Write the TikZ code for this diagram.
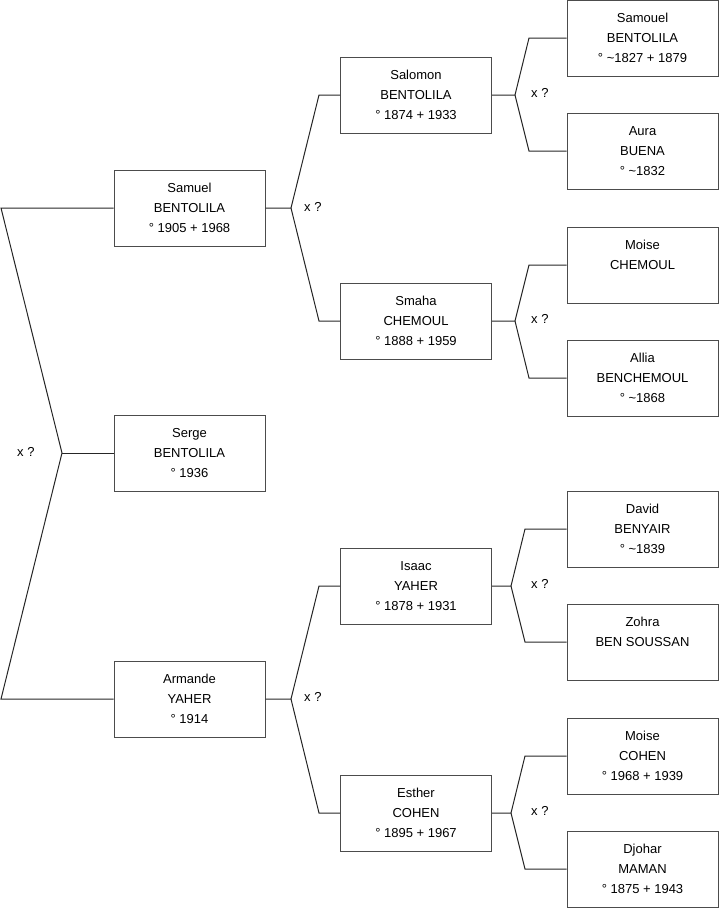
\documentclass[tikz,border=0pt]{standalone}
\usepackage{fontspec}
\setmainfont{Liberation Sans}
\begin{document}
\begin{tikzpicture}[x=1pt,y=-1pt,
  person/.style={draw=black!70, line width=1pt, rectangle, minimum width=151pt, minimum height=76pt, inner sep=0pt, align=center, font=\fontsize{13}{20}\selectfont, text=black},
  link/.style={draw=black!85, line width=1pt},
  xq/.style={anchor=west, inner sep=0pt, font=\fontsize{13}{15}\selectfont, text=black}]
\useasboundingbox (0,0) rectangle (719,908);
% generation 1
\node[person] (sam) at (189.5,208) {Samuel\\BENTOLILA\\° 1905 + 1968};
\node[person] (serge) at (189.5,453) {Serge\\BENTOLILA\\° 1936};
\node[person] (arm) at (189.5,699) {Armande\\YAHER\\° 1914};
% generation 2
\node[person] (salomon) at (416,95) {Salomon\\BENTOLILA\\° 1874 + 1933};
\node[person] (smaha) at (416,321) {Smaha\\CHEMOUL\\° 1888 + 1959};
\node[person] (isaac) at (416,586) {Isaac\\YAHER\\° 1878 + 1931};
\node[person] (esther) at (416,813) {Esther\\COHEN\\° 1895 + 1967};
% generation 3
\node[person] (samouel) at (642.5,38) {Samouel\\BENTOLILA\\° \textasciitilde 1827 + 1879};
\node[person] (aura) at (642.5,151) {Aura\\BUENA\\° \textasciitilde 1832};
\node[person] (moisech) at (642.5,265) {Moise\\CHEMOUL\\\mbox{}};
\node[person] (allia) at (642.5,378) {Allia\\BENCHEMOUL\\° \textasciitilde 1868};
\node[person] (david) at (642.5,529) {David\\BENYAIR\\° \textasciitilde 1839};
\node[person] (zohra) at (642.5,642) {Zohra\\BEN SOUSSAN\\\mbox{}};
\node[person] (moiseco) at (642.5,756) {Moise\\COHEN\\° 1968 + 1939};
\node[person] (djohar) at (642.5,869) {Djohar\\MAMAN\\° 1875 + 1943};
% coordinates
\coordinate (l1) at (1,208);
\coordinate (v0) at (62,453);
\coordinate (l2) at (1,699);
\coordinate (v1) at (291,208);
\coordinate (b1a) at (319,95);
\coordinate (b1b) at (319,321);
\coordinate (v2) at (291,699);
\coordinate (b2a) at (319,586);
\coordinate (b2b) at (319,813);
\coordinate (v3) at (515,95);
\coordinate (b3a) at (529,38);
\coordinate (b3b) at (529,151);
\coordinate (v4) at (515,321);
\coordinate (b4a) at (529,265);
\coordinate (b4b) at (529,378);
\coordinate (v5) at (511,586);
\coordinate (b5a) at (525,529);
\coordinate (b5b) at (525,642);
\coordinate (v6) at (511,813);
\coordinate (b6a) at (525,756);
\coordinate (b6b) at (525,869);
% links
\draw[link] (sam.west) -- (l1) -- (v0) -- (l2) -- (arm.west);
\draw[link] (v0) -- (serge.west);
\draw[link] (sam.east) -- (v1) -- (b1a) -- (salomon.west);
\draw[link] (v1) -- (b1b) -- (smaha.west);
\draw[link] (arm.east) -- (v2) -- (b2a) -- (isaac.west);
\draw[link] (v2) -- (b2b) -- (esther.west);
\draw[link] (salomon.east) -- (v3) -- (b3a) -- (samouel.west);
\draw[link] (v3) -- (b3b) -- (aura.west);
\draw[link] (smaha.east) -- (v4) -- (b4a) -- (moisech.west);
\draw[link] (v4) -- (b4b) -- (allia.west);
\draw[link] (isaac.east) -- (v5) -- (b5a) -- (david.west);
\draw[link] (v5) -- (b5b) -- (zohra.west);
\draw[link] (esther.east) -- (v6) -- (b6a) -- (moiseco.west);
\draw[link] (v6) -- (b6b) -- (djohar.west);
% labels
\node[xq] (x0) at (17,452) {x ?};
\node[xq] (x1) at (304,207) {x ?};
\node[xq] (x2) at (304,697) {x ?};
\node[xq] (x3) at (531,93) {x ?};
\node[xq] (x4) at (531,319) {x ?};
\node[xq] (x5) at (531,584) {x ?};
\node[xq] (x6) at (531,811) {x ?};
\end{tikzpicture}
\end{document}
